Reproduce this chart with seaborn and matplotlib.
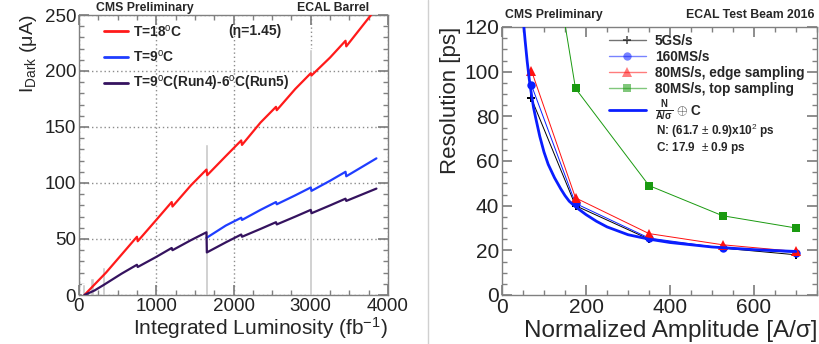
import numpy as np
import pandas as pd
import seaborn as sns
import matplotlib.pyplot as plt
from matplotlib.ticker import MultipleLocator
from matplotlib.lines import Line2D

# left panel: dark current vs integrated luminosity
lumi_18 = [70, 350, 550, 750, 760, 1000, 1200, 1210, 1450, 1650, 1660, 1900, 2100, 2110,
           2350, 2550, 2560, 2800, 3000, 3010, 3250, 3450, 3460, 3780]
idark_18 = [0, 20, 36, 52, 48, 67, 83, 79, 98, 112, 107, 124, 138, 134,
            154, 168, 165, 184, 198, 196, 212, 227, 222, 250]

lumi_9 = [1650, 1900, 2100, 2110, 2350, 2550, 2560, 2800, 3000, 3010, 3250, 3450, 3460, 3850]
idark_9 = [51, 62, 69, 67, 76, 83, 81, 89, 96, 93, 102, 110, 106, 122]

lumi_96 = [70, 200, 320, 550, 750, 760, 1000, 1200, 1210, 1450, 1650, 1655, 1900, 2100, 2110,
           2350, 2550, 2560, 2800, 3000, 3010, 3250, 3450, 3460, 3850]
idark_96 = [0, 4, 9, 19, 27, 25, 34, 42, 40, 49, 56, 38, 47, 54, 52,
            59, 65, 63, 70, 76, 73, 80, 86, 84, 95]

bar_lumi = [60, 170, 320, 1650, 3000]
bar_height = [10, 15, 25, 135, 220]

# right panel: timing resolution vs normalized amplitude
amp = [70, 175, 350, 525, 700]
res_5gs = [88, 40, 25, 21, 18]
res_160 = [94, 41, 25.5, 21, 19]
res_80edge = [100.5, 43.5, 27.5, 22.5, 19.5]
res_80top = [213, 92.5, 49, 35.5, 30]

fit_amp = [45, 50, 55, 60, 65, 70, 75, 80, 90, 100, 110, 125, 140, 150, 160, 175, 200,
           225, 250, 300, 350, 400, 500, 600, 700]
fit_res = [138, 124.5, 114, 104.5, 96.5, 90, 84, 79.5, 71, 64, 58.5, 52.5, 47.5, 44.5,
           42, 39.5, 36, 33, 30.5, 27, 25, 23.5, 21.5, 20.3, 19.5]

sns.set_theme(style="ticks")
plt.rcParams['font.family'] = ['Liberation Sans', 'DejaVu Sans']
plt.rcParams['mathtext.fontset'] = 'custom'
plt.rcParams['mathtext.rm'] = 'Liberation Sans'
plt.rcParams['mathtext.bf'] = 'Liberation Sans:bold'
plt.rcParams['mathtext.it'] = 'Liberation Sans:italic'

fig = plt.figure(figsize=(8.19, 3.44), dpi=100)
ax1 = fig.add_axes([79 / 819, 1 - 295 / 344, 309 / 819, 280 / 344])
ax2 = fig.add_axes([502 / 819, 1 - 295 / 344, 315 / 819, 268 / 344])

frame = '#808080'


def root_style(ax, size):
    for s in ax.spines.values():
        s.set_color(frame)
        s.set_linewidth(1.0)
    ax.tick_params(which='both', direction='in', top=True, right=True, colors=frame,
                   labelcolor='#222222', labelsize=size, pad=2)
    ax.tick_params(which='major', length=7)
    ax.tick_params(which='minor', length=3.5)


# ---- left panel ----
ax1.bar(bar_lumi, bar_height, width=45, color='#c8c8c8', zorder=2)
lab18 = 'T=18$^{\\rm o}$C'
lab9 = 'T=9$^{\\rm o}$C'
lab96 = 'T=9$^{\\rm o}$C(Run4)-6$^{\\rm o}$C(Run5)'
left = pd.concat([
    pd.DataFrame({'lumi': lumi_18, 'idark': idark_18, 'series': lab18}),
    pd.DataFrame({'lumi': lumi_9, 'idark': idark_9, 'series': lab9}),
    pd.DataFrame({'lumi': lumi_96, 'idark': idark_96, 'series': lab96}),
])
pal = {lab18: '#ff1a1a', lab9: '#1f3dff', lab96: '#35135f'}
sns.lineplot(data=left, x='lumi', y='idark', hue='series', palette=pal, sort=False,
             estimator=None, linewidth=1.6, ax=ax1, zorder=3)
ax1.set_xlim(0, 4000)
ax1.set_ylim(0, 250)
ax1.xaxis.set_major_locator(MultipleLocator(1000))
ax1.xaxis.set_minor_locator(MultipleLocator(250))
ax1.yaxis.set_major_locator(MultipleLocator(50))
ax1.yaxis.set_minor_locator(MultipleLocator(10))
root_style(ax1, 13.5)
ax1.xaxis.grid(True, which='major', color='#8c8c8c', linestyle=(0, (1, 2)), linewidth=1.0)
ax1.yaxis.grid(True, which='major', color='#8c8c8c', linestyle=(0, (1, 2)), linewidth=1.0)
for gl in ax1.get_xgridlines() + ax1.get_ygridlines():
    gl.set_zorder(1)
ax1.set_xlabel('Integrated Luminosity (fb$^{-1}$)', fontsize=15, labelpad=0, loc='right')
ax1.set_ylabel('I$_{\\rm Dark}$ (μA)', fontsize=14, labelpad=4, loc='top')
leg = ax1.legend(title=None, frameon=False, loc='upper left', bbox_to_anchor=(0.04, 1.015),
                 handlelength=1.8, handletextpad=0.3, labelspacing=0.7,
                 prop={'weight': 'bold', 'size': 9.9})
for h in leg.get_lines():
    h.set_linewidth(2)
ax1.text(0.482, 0.943, '(η=1.45)', transform=ax1.transAxes, fontsize=10, fontweight='bold',
         va='center')
fig.text(145 / 819, 1 - 8 / 344, 'CMS Preliminary', ha='center', va='center', fontsize=8.8,
         fontweight='bold')
fig.text(333 / 819, 1 - 8 / 344, 'ECAL Barrel', ha='center', va='center', fontsize=8.8,
         fontweight='bold')

# ---- right panel ----
series = [
    ('5GS/s', res_5gs, 'black', 'P', 6),
    ('160MS/s', res_160, '#0a1eff', 'o', 6),
    ('80MS/s, edge sampling', res_80edge, '#ff1010', '^', 6.5),
    ('80MS/s, top sampling', res_80top, '#1a9a10', 's', 5.5),
]
handles = []
for name, vals, col, mk, ms in series:
    sns.lineplot(x=amp, y=vals, color=col, marker=mk, markersize=ms, markeredgewidth=0,
                 linewidth=0.7, ax=ax2, zorder=3)
    handles.append(Line2D([], [], color=col, alpha=0.55, linewidth=1, marker=mk,
                          markersize=ms, markeredgewidth=0, markerfacecolor=col,
                          markeredgecolor=col, label=name))
sns.lineplot(x=fit_amp, y=fit_res, color='#0a1eff', linewidth=2, ax=ax2, zorder=4)
handles.append(Line2D([], [], color='#0a1eff', linewidth=2,
                      label=r'$\frac{\mathbf{N}}{\mathbf{A/\sigma}}$ $\oplus$ C'))
ax2.set_xlim(0, 750)
ax2.set_ylim(0, 120)
ax2.xaxis.set_major_locator(MultipleLocator(200))
ax2.xaxis.set_minor_locator(MultipleLocator(50))
ax2.yaxis.set_major_locator(MultipleLocator(20))
ax2.yaxis.set_minor_locator(MultipleLocator(5))
root_style(ax2, 15)
ax2.set_xlabel('Normalized Amplitude [A/σ]', fontsize=17.5, labelpad=2, loc='right')
ax2.set_ylabel('Resolution [ps]', fontsize=16, labelpad=2, loc='top')
leg2 = ax2.legend(handles=handles, frameon=False, loc='upper left', bbox_to_anchor=(0.3, 1.02),
                  handlelength=2.7, handletextpad=0.7, labelspacing=0.15,
                  prop={'weight': 'bold', 'size': 9.8})
ax2.text(0.49, 0.612, 'N: (61.7 $\\pm$ 0.9)x10$^{2}$ ps', transform=ax2.transAxes,
         fontsize=8.5, fontweight='bold', va='center')
ax2.text(0.49, 0.55, 'C: 17.9  $\\pm$ 0.9 ps', transform=ax2.transAxes,
         fontsize=8.5, fontweight='bold', va='center')
fig.text(505 / 819, 1 - 15 / 344, 'CMS Preliminary', ha='left', va='center', fontsize=8.8,
         fontweight='bold')
fig.text(814 / 819, 1 - 15 / 344, 'ECAL Test Beam 2016', ha='right', va='center', fontsize=8.8,
         fontweight='bold')

# separator between the two pictures
fig.add_artist(Line2D([428 / 819, 428 / 819], [0, 1], color='#d0d0d0', linewidth=1))

fig.savefig('out.png', dpi=100)
